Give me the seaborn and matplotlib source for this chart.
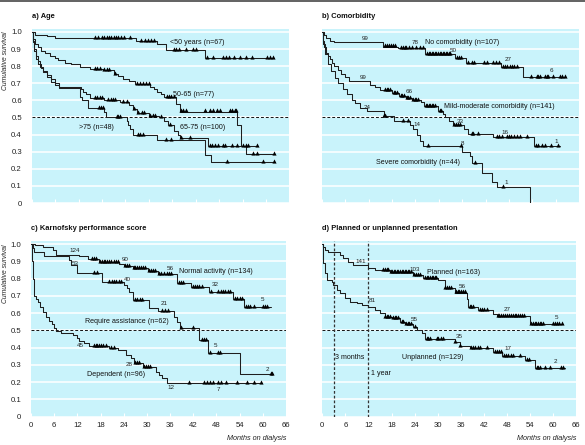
import numpy as np
import pandas as pd
import matplotlib
matplotlib.use('Agg')
import matplotlib.pyplot as plt
from matplotlib.lines import Line2D
import seaborn as sns

# ---- a) Age : step times (months), survival after step, censor times, end
age50_t = [0.8, 3.8, 6.0, 26.7, 32.0, 34.5, 44.3]
age50_s = [0.985, 0.975, 0.962, 0.948, 0.93, 0.895, 0.85]
age50_c = [16.2, 17.0, 18.0, 18.6, 19.2, 19.8, 20.4, 21.0, 21.6, 22.2, 22.8, 23.6, 25.3,
           28.1, 29.0, 29.8, 30.6, 31.4, 36.4, 37.0, 37.8, 39.4, 41.2, 42.0, 44.8, 46.5,
           49.1, 49.8, 50.5, 51.7, 53.3, 55.0, 56.3, 60.2, 61.0, 61.9]
age50_end = 62.0

age5065_t = [0.4, 0.8, 1.5, 2.5, 3.5, 4.7, 6.0, 6.8, 8.5, 10.0, 12.4, 15.0, 18.2, 21.0, 22.0,
             23.5, 25.0, 26.5, 30.3, 31.3, 32.2, 33.0, 34.0, 37.0, 38.0, 52.6, 53.6, 54.8]
age5065_s = [0.96, 0.93, 0.91, 0.89, 0.875, 0.86, 0.85, 0.835, 0.82, 0.81, 0.795, 0.785, 0.775,
             0.755, 0.74, 0.725, 0.715, 0.695, 0.68, 0.665, 0.65, 0.635, 0.62, 0.58, 0.535,
             0.458, 0.335, 0.285]
age5065_c = [16.2, 16.8, 17.5, 18.5, 19.2, 19.8, 21.3, 27.0, 27.8, 28.6, 29.4, 30.0, 34.6,
             35.2, 35.8, 36.4, 38.2, 38.8, 39.4, 44.3, 45.6, 46.5, 47.4, 48.2, 50.8, 51.4,
             52.0, 52.4, 56.8, 57.7, 62.0]
age5065_end = 62.2

age6575_t = [0.3, 0.6, 1.0, 1.5, 2.0, 2.5, 3.0, 4.0, 5.0, 6.0, 7.0, 12.5, 13.2, 14.0, 15.0,
             18.5, 22.5, 25.0, 26.0, 27.0, 30.0, 32.5, 34.0, 35.0, 36.5, 37.5, 38.0, 45.2]
age6575_s = [0.95, 0.9, 0.86, 0.83, 0.81, 0.79, 0.77, 0.75, 0.725, 0.7, 0.68, 0.665, 0.65,
             0.635, 0.615, 0.6, 0.59, 0.575, 0.55, 0.525, 0.51, 0.5, 0.48, 0.455, 0.42, 0.395,
             0.38, 0.335]
age6575_c = [16.2, 16.8, 17.5, 18.0, 19.6, 20.2, 20.8, 21.3, 23.5, 24.3, 26.2, 27.2, 28.2,
             28.8, 30.4, 31.0, 31.6, 33.0, 35.5, 38.3, 40.5, 45.6, 46.3, 47.0, 47.6, 48.9,
             49.6, 51.2, 52.5, 54.0, 54.8, 55.4, 57.7]
age6575_end = 58.0

age75_t = [0.3, 0.6, 1.0, 1.5, 2.0, 3.0, 4.0, 5.0, 6.0, 7.0, 12.4, 13.0, 14.5, 18.6, 19.1,
           24.3, 24.7, 25.2, 26.0, 32.0, 44.3, 46.0]
age75_s = [0.94, 0.89, 0.84, 0.815, 0.795, 0.765, 0.735, 0.71, 0.69, 0.675, 0.62, 0.6, 0.556,
           0.53, 0.505, 0.48, 0.455, 0.43, 0.4, 0.37, 0.283, 0.24]
age75_c = [17.3, 17.8, 18.2, 21.8, 22.2, 22.6, 27.2, 27.8, 28.5, 34.4, 35.7, 50.0, 59.3, 62.0]
age75_end = 62.2

# ---- b) Comorbidity
nocom_t = [0.5, 1.0, 2.0, 3.0, 15.7, 19.5, 26.4, 34.2, 37.0, 46.0, 51.6]
nocom_s = [0.98, 0.965, 0.95, 0.94, 0.915, 0.905, 0.87, 0.85, 0.82, 0.795, 0.735]
nocom_c = [16.2, 16.7, 17.2, 17.7, 18.2, 18.7, 20.2, 20.7, 21.2, 21.7, 22.4, 23.0, 24.2, 25.3,
           26.0, 27.0, 27.4, 27.8, 28.2, 28.6, 29.0, 29.4, 29.8, 30.2, 30.6, 31.0, 31.4, 31.8,
           32.2, 32.6, 33.0, 34.6, 35.2, 35.8, 37.5, 38.6, 39.0, 41.6, 42.4, 44.0, 44.6, 45.4,
           46.6, 47.0, 47.6, 48.2, 48.8, 49.4, 50.0, 53.6, 55.1, 55.6, 56.0, 57.2, 57.7, 58.0,
           59.3, 61.0, 61.6, 62.3]
nocom_end = 62.5

mild_t = [0.3, 0.6, 1.0, 1.5, 2.0, 2.5, 3.0, 4.0, 5.0, 6.0, 7.0, 12.4, 13.6, 15.0, 18.0, 19.8,
          21.5, 23.0, 25.4, 26.3, 29.9, 31.0, 31.6, 32.5, 33.6, 36.6, 37.5, 44.0, 54.4]
mild_s = [0.95, 0.91, 0.88, 0.86, 0.84, 0.82, 0.8, 0.78, 0.755, 0.735, 0.715, 0.69, 0.677,
          0.663, 0.644, 0.625, 0.615, 0.605, 0.59, 0.565, 0.54, 0.52, 0.5, 0.48, 0.455, 0.43,
          0.405, 0.385, 0.335]
mild_c = [16.2, 16.6, 17.0, 17.5, 18.4, 18.8, 19.2, 20.2, 20.6, 21.0, 21.8, 22.2, 22.6, 23.4,
          23.8, 24.2, 24.6, 26.6, 27.0, 27.4, 27.8, 28.2, 28.6, 29.0, 30.2, 30.6, 34.0, 34.5,
          35.0, 35.5, 38.4, 38.9, 40.1, 45.0, 45.5, 46.2, 47.5, 48.0, 48.6, 49.2, 50.0, 50.9,
          52.6, 55.0, 55.5, 56.4, 57.2, 58.9, 60.6]
mild_end = 61.0

severe_t = [0.3, 0.8, 1.6, 2.4, 3.3, 4.2, 5.5, 6.3, 7.6, 8.5, 9.8, 11.5, 15.8, 18.5, 22.6, 23.5,
            24.3, 25.2, 26.0, 36.0, 37.9, 38.4, 41.2, 43.6, 44.9, 53.3]
severe_s = [0.93, 0.87, 0.81, 0.77, 0.73, 0.70, 0.665, 0.635, 0.605, 0.585, 0.556, 0.536, 0.507,
            0.478, 0.458, 0.43, 0.40, 0.36, 0.331, 0.30, 0.273, 0.234, 0.175, 0.125, 0.094, 0.0]
severe_c = [15.9, 16.3, 20.9, 22.2, 27.2, 35.6, 39.2, 46.5]
severe_end = 53.3

# ---- c) Karnofsky performance score
normal_t = [1.0, 3.0, 5.6, 6.5, 12.5, 14.7, 17.5, 22.8, 24.0, 26.3, 30.2, 32.8, 37.9, 41.5,
            46.0, 52.4, 55.2]
normal_s = [0.993, 0.985, 0.967, 0.94, 0.93, 0.912, 0.896, 0.886, 0.872, 0.862, 0.842, 0.828,
            0.774, 0.752, 0.725, 0.685, 0.638]
normal_c = [15.9, 16.4, 16.9, 17.8, 18.3, 18.8, 19.2, 19.7, 20.2, 20.8, 21.4, 22.0, 22.5, 24.3,
            24.8, 25.3, 26.6, 27.0, 27.5, 28.0, 28.5, 29.0, 29.5, 30.5, 31.0, 31.5, 32.0, 33.2,
            33.7, 34.5, 35.2, 35.8, 36.3, 38.2, 38.7, 39.3, 41.8, 42.4, 43.0, 43.6, 44.3, 46.6,
            48.5, 49.1, 49.7, 50.3, 51.0, 51.6, 52.8, 53.3, 54.0, 54.6, 55.6, 56.1, 56.6, 57.8,
            60.0, 60.5, 61.0]
normal_end = 62.0

assist_t = [0.4, 0.9, 3.4, 9.9, 10.4, 12.0, 18.5, 24.1, 24.8, 25.4, 26.3, 30.6, 32.8, 37.0,
            37.9, 38.6, 43.6, 45.7, 54.0]
assist_s = [0.977, 0.957, 0.93, 0.91, 0.88, 0.832, 0.783, 0.764, 0.745, 0.725, 0.677, 0.629,
            0.612, 0.58, 0.551, 0.516, 0.443, 0.371, 0.25]
assist_c = [16.4, 17.0, 20.3, 20.9, 21.5, 22.1, 22.7, 23.3, 26.9, 27.5, 28.1, 28.7, 33.8, 34.6,
            35.4, 38.8, 41.9, 44.2, 44.8, 45.4, 46.3, 48.3, 49.0, 62.0, 62.4]
assist_end = 62.6

depend_t = [0.2, 0.4, 0.7, 0.9, 1.3, 1.7, 2.2, 3.0, 3.9, 4.7, 5.4, 6.0, 6.5, 7.8, 10.8, 12.0,
            12.5, 13.8, 15.0, 20.3, 22.4, 24.6, 25.9, 26.7, 28.9, 32.3, 33.2, 34.0, 35.3]
depend_s = [0.9, 0.8, 0.74, 0.7, 0.685, 0.667, 0.638, 0.609, 0.58, 0.555, 0.535, 0.515, 0.495,
            0.484, 0.474, 0.455, 0.438, 0.426, 0.41, 0.397, 0.385, 0.36, 0.338, 0.31, 0.29,
            0.262, 0.242, 0.222, 0.197]
depend_c = [16.2, 16.7, 17.2, 17.7, 18.2, 18.7, 19.3, 20.6, 21.4, 26.9, 27.4, 27.9, 29.3, 29.8,
            30.3, 30.8, 40.9, 44.8, 45.5, 46.2, 47.0, 48.3, 49.1, 50.4, 53.4, 56.0, 57.8, 59.5]
depend_end = 59.8

# ---- d) Planned or unplanned presentation
planned_t = [0.3, 0.7, 1.6, 4.6, 5.5, 6.8, 8.1, 12.0, 13.7, 17.6, 23.7, 26.3, 30.0, 31.9, 34.5,
             37.6, 38.0, 40.6, 44.5, 45.4, 53.9]
planned_s = [0.986, 0.967, 0.957, 0.938, 0.919, 0.895, 0.88, 0.865, 0.852, 0.838, 0.824, 0.805,
             0.79, 0.745, 0.72, 0.68, 0.638, 0.619, 0.596, 0.584, 0.538]
planned_c = [15.9, 16.3, 16.7, 17.1, 17.8, 18.2, 18.6, 19.0, 19.4, 19.8, 20.2, 20.6, 21.0, 21.4,
             21.8, 22.2, 22.6, 23.0, 23.9, 24.3, 24.8, 25.3, 26.8, 27.2, 27.6, 28.0, 28.4, 28.8,
             29.2, 29.6, 32.0, 32.5, 33.0, 33.5, 34.7, 35.2, 35.6, 36.0, 36.5, 37.0, 38.3, 38.8,
             39.3, 41.0, 41.5, 42.0, 42.8, 45.6, 46.0, 46.5, 47.0, 47.5, 48.0, 48.5, 49.0, 49.5,
             50.0, 50.5, 51.0, 51.5, 52.0, 52.5, 54.4, 54.8, 55.2, 55.6, 56.0, 56.5, 57.0, 57.5,
             60.0, 60.5, 61.0, 61.5, 62.3]
planned_end = 62.7

unplan_t = [0.1, 0.3, 0.7, 1.1, 2.4, 2.9, 3.7, 4.6, 5.9, 7.2, 8.9, 10.2, 12.0, 13.7, 15.0, 16.2,
            18.0, 20.2, 21.5, 23.7, 24.5, 25.8, 26.7, 34.5, 35.8, 38.4, 44.5, 46.7, 52.7, 55.3]
unplan_s = [0.95, 0.89, 0.832, 0.793, 0.783, 0.764, 0.735, 0.716, 0.687, 0.667, 0.658, 0.648,
            0.638, 0.619, 0.6, 0.58, 0.571, 0.551, 0.54, 0.522, 0.503, 0.484, 0.449, 0.435,
            0.41, 0.397, 0.377, 0.352, 0.329, 0.28]
unplan_c = [16.3, 16.7, 17.1, 17.5, 18.4, 18.8, 19.2, 19.6, 20.6, 21.0, 21.8, 22.2, 22.6, 23.0,
            24.0, 27.1, 27.6, 28.1, 29.7, 30.2, 30.8, 31.3, 34.5, 35.8, 38.8, 39.3, 39.8, 40.4,
            41.0, 42.8, 45.0, 45.5, 46.0, 46.5, 47.2, 47.8, 48.3, 49.0, 49.6, 51.4, 53.2, 53.8,
            55.8, 56.2, 56.6, 57.8, 59.1, 62.2, 62.6]
unplan_end = 63.0

xticks = list(range(0, 67, 6))
yticks = [0, 0.1, 0.2, 0.3, 0.4, 0.5, 0.6, 0.7, 0.8, 0.9, 1.0]
ytick_labels = ['0', '0.1', '0.2', '0.3', '0.4', '0.5', '0.6', '0.7', '0.8', '0.9', '1.0']

panel_titles = ['a) Age', 'b) Comorbidity', 'c) Karnofsky performance score',
                'd) Planned or unplanned presentation']

# curve labels: (text, month, survival)
labels_a = [('<50 years (n=67)', 35.4, 0.936), ('50-65 (n=77)', 36.2, 0.637),
            ('65-75 (n=100)', 37.9, 0.443), ('>75 (n=48)', 12.2, 0.443)]
labels_b = [('No comorbidity (n=107)', 26.5, 0.937),
            ('Mild-moderate comorbidity (n=141)', 31.4, 0.567),
            ('Severe comorbidity (n=44)', 13.9, 0.236)]
labels_c = [('Normal activity (n=134)', 38.2, 0.841), ('Require assistance (n=62)', 14.0, 0.551),
            ('Dependent (n=96)', 14.4, 0.242)]
labels_d = [('Planned (n=163)', 27.1, 0.836), ('Unplanned (n=129)', 20.6, 0.344),
            ('3 months', 3.3, 0.344), ('1 year', 12.7, 0.248)]

# numbers at risk: (text, month, survival)
risk_b = [('99', 11.0, 0.962), ('78', 24.0, 0.94), ('50', 33.7, 0.89), ('27', 47.9, 0.84),
          ('6', 59.0, 0.775), ('99', 10.6, 0.735), ('66', 22.4, 0.653), ('33', 35.4, 0.478),
          ('16', 47.1, 0.415), ('1', 60.1, 0.36), ('24', 11.6, 0.56), ('14', 24.4, 0.458),
          ('8', 36.0, 0.35), ('1', 47.3, 0.12)]
risk_c = [('124', 11.4, 0.963), ('90', 24.4, 0.913), ('56', 36.0, 0.861), ('32', 47.8, 0.764),
          ('5', 60.0, 0.677), ('53', 11.5, 0.89), ('40', 25.0, 0.797), ('21', 34.5, 0.658),
          ('5', 47.8, 0.41), ('2', 61.2, 0.275), ('45', 12.8, 0.41), ('28', 25.3, 0.3),
          ('12', 36.2, 0.17), ('7', 48.5, 0.159)]
risk_d = [('141', 10.1, 0.899), ('103', 24.1, 0.855), ('56', 36.3, 0.754), ('27', 48.0, 0.619),
          ('5', 61.0, 0.576), ('81', 13.1, 0.673), ('55', 23.9, 0.565), ('35', 35.6, 0.464),
          ('17', 48.4, 0.397), ('2', 60.5, 0.319)]

panel_curves = [
    [(age50_t, age50_s, age50_c, age50_end), (age5065_t, age5065_s, age5065_c, age5065_end),
     (age6575_t, age6575_s, age6575_c, age6575_end), (age75_t, age75_s, age75_c, age75_end)],
    [(nocom_t, nocom_s, nocom_c, nocom_end), (mild_t, mild_s, mild_c, mild_end),
     (severe_t, severe_s, severe_c, severe_end)],
    [(normal_t, normal_s, normal_c, normal_end), (assist_t, assist_s, assist_c, assist_end),
     (depend_t, depend_s, depend_c, depend_end)],
    [(planned_t, planned_s, planned_c, planned_end), (unplan_t, unplan_s, unplan_c, unplan_end)],
]
panel_labels = [labels_a, labels_b, labels_c, labels_d]
panel_risk = [[], risk_b, risk_c, risk_d]

BG = '#c9f3fb'
LINE = '#1e1e1e'

sns.set_theme(style='white', rc={'axes.facecolor': BG})
plt.rcParams['font.family'] = ['Liberation Sans', 'DejaVu Sans']

fig = plt.figure(figsize=(5.85, 4.45), dpi=100)
positions = [[0.0542, 0.5438, 0.4405, 0.392], [0.5504, 0.5438, 0.4393, 0.392],
             [0.0530, 0.0636, 0.4359, 0.3953], [0.5510, 0.0636, 0.4337, 0.3953]]

for i, pos in enumerate(positions):
    ax = fig.add_axes(pos)
    ax.set_facecolor(BG)
    for sp in ax.spines.values():
        sp.set_visible(False)
    ax.set_xlim(0, 66)
    ax.set_ylim(0, 1.02)
    ax.set_yticks(yticks)
    ax.set_xticks(xticks)
    ax.grid(axis='y', color='white', lw=1.1)
    ax.grid(axis='x', visible=False)
    ax.set_axisbelow(True)
    ax.tick_params(axis='x', direction='in', length=3, width=0.8, color='white',
                   labelsize=5.6, pad=4, labelcolor='#222222', bottom=True)
    ax.tick_params(axis='y', length=0, labelsize=5.6, pad=7, labelcolor='#222222')
    if i in (0, 2):
        ax.set_yticklabels(ytick_labels)
        ax.text(-0.1, 1.0, 'Cumulative survival', transform=ax.get_yaxis_transform(),
                rotation=90, ha='center', va='top', fontsize=4.9, style='italic',
                color='#222222')
    else:
        ax.set_yticklabels([])
    if i in (0, 1):
        ax.set_xticklabels([])
    else:
        ax.set_xticklabels([str(v) for v in xticks])
        ax.text(1.0, -0.125, 'Months on dialysis', transform=ax.transAxes, ha='right',
                va='center', fontsize=5.2, style='italic', color='#222222')

    ax.axhline(0.5, color='#111111', lw=0.7, ls=(0, (3, 2)), zorder=2)
    if i == 3:
        for m in (3, 12):
            ax.axvline(m, color='#333333', lw=0.9, ls=(0, (2.2, 1.6)), zorder=2)

    for t, s, c, end in panel_curves[i]:
        line_df = pd.DataFrame({'month': [0.0] + list(t) + [end],
                                'surv': [1.0] + list(s) + [s[-1]]})
        sns.lineplot(data=line_df, x='month', y='surv', ax=ax, color=LINE, lw=0.75,
                     drawstyle='steps-post', estimator=None, sort=False, zorder=3)
        idx = np.searchsorted(np.array(t), np.array(c), side='right') - 1
        cy = np.where(idx >= 0, np.array(s)[np.clip(idx, 0, None)], 1.0)
        cens_df = pd.DataFrame({'month': c, 'surv': cy + 0.006})
        sns.scatterplot(data=cens_df, x='month', y='surv', ax=ax, marker='^', s=9,
                        color='black', linewidth=0, zorder=4)

    ax.set_xlabel('')
    ax.set_ylabel('')

    for txt, x, y in panel_labels[i]:
        ax.text(x, y, txt, fontsize=5.1, ha='left', va='center', color='#111111', zorder=5)
    for txt, x, y in panel_risk[i]:
        ax.text(x, y, txt, fontsize=4.5, ha='center', va='center', color='#222222', zorder=5)

    ax.text(0.0, 1.0 + 12.2 / 174, panel_titles[i], transform=ax.transAxes, ha='left',
            va='center', fontsize=5.4, fontweight='bold', color='#111111')

fig.add_artist(Line2D([0, 1], [0.9975, 0.9975], color='#555555', lw=1.3))

fig.savefig('out.png', dpi=100)
